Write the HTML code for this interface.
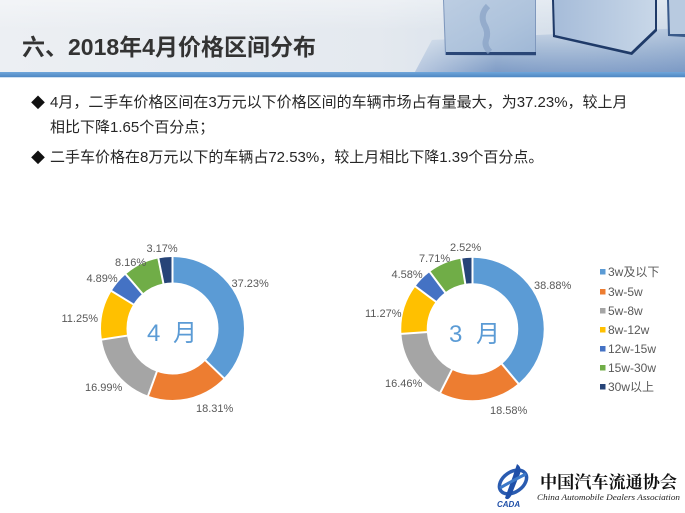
<!DOCTYPE html>
<html><head><meta charset="utf-8">
<style>
html,body{margin:0;padding:0;background:#fff;}
body{width:685px;height:513px;overflow:hidden;position:relative;font-family:"Liberation Sans","Noto Sans CJK SC",sans-serif;}
.t{position:absolute;white-space:nowrap;}
</style></head><body>
<svg width="685" height="513" viewBox="0 0 685 513" style="position:absolute;left:0;top:0">
<defs>
<linearGradient id="hbg" x1="0" y1="0" x2="1" y2="0">
<stop offset="0" stop-color="#eceff3"/>
<stop offset="0.55" stop-color="#e4e9ef"/>
<stop offset="0.7" stop-color="#dbe3ec"/>
<stop offset="1" stop-color="#cfdbe8"/>
</linearGradient>
<linearGradient id="hbg2" x1="0" y1="0" x2="0" y2="1">
<stop offset="0" stop-color="#ffffff" stop-opacity="0.35"/>
<stop offset="1" stop-color="#ffffff" stop-opacity="0"/>
</linearGradient>
<linearGradient id="floor" x1="0" y1="0" x2="0" y2="1">
<stop offset="0" stop-color="#c9d6e6"/>
<stop offset="0.5" stop-color="#a3b9d5"/>
<stop offset="1" stop-color="#7f9cc6"/>
</linearGradient>
<linearGradient id="floorh" x1="0" y1="0" x2="1" y2="0">
<stop offset="0" stop-color="#ffffff" stop-opacity="0.45"/>
<stop offset="0.3" stop-color="#ffffff" stop-opacity="0"/>
<stop offset="1" stop-color="#6f90c0" stop-opacity="0.2"/>
</linearGradient>
<linearGradient id="cube" x1="0" y1="0" x2="1" y2="1">
<stop offset="0" stop-color="#bccde2"/>
<stop offset="0.6" stop-color="#aec3dc"/>
<stop offset="1" stop-color="#a0b8d6"/>
</linearGradient>
<linearGradient id="cube2" x1="0" y1="0" x2="1" y2="0">
<stop offset="0" stop-color="#a6bcd9"/>
<stop offset="1" stop-color="#c8d7e8"/>
</linearGradient>
<linearGradient id="bar" x1="0" y1="0" x2="0" y2="1">
<stop offset="0" stop-color="#6fa6da"/>
<stop offset="1" stop-color="#4f88c4"/>
</linearGradient>
</defs>
<!-- header -->
<rect x="0" y="0" width="685" height="72" fill="url(#hbg)"/>
<rect x="0" y="0" width="685" height="30" fill="url(#hbg2)"/>
<polygon points="415,72 432,40 685,28 685,72" fill="url(#floor)"/>
<polygon points="415,72 432,40 685,28 685,72" fill="url(#floorh)"/>
<!-- cube 1 -->
<polygon points="443,0 536,0 536,56 445,55" fill="#7f98bd"/>
<polygon points="444,0 535,0 535,52 446,52" fill="url(#cube)"/>
<rect x="446" y="52" width="90" height="3" fill="#2a4676"/>
<path d="M488,6 q-8,8 -4,18 q5,8 2,16 q-2,6 4,12" stroke="#88a1c4" stroke-width="6" fill="none" opacity="0.7"/>
<!-- cube 2 -->
<polygon points="552,0 657,0 657,31 632,55 553,37" fill="#1f3a68"/>
<polygon points="554,0 655,0 655,29 631,52 555,35" fill="url(#cube2)"/>
<!-- cube 3 -->
<polygon points="667,0 685,0 685,37 668,36" fill="#3a5a8a"/>
<polygon points="669,0 685,0 685,34 670,34" fill="#b8cae0"/>
<!-- bar -->
<rect x="0" y="72" width="685" height="5" fill="url(#bar)"/>
<rect x="0" y="77" width="685" height="1" fill="#cfe0f1"/>

<!-- donut 1 -->
<g transform="rotate(-90 172.5 328.5)" fill="none" stroke-width="25.5">
<circle cx="172.5" cy="328.5" r="58.75" pathLength="100" stroke="#5b9bd5" stroke-dasharray="37.23 200" stroke-dashoffset="0"/>
<circle cx="172.5" cy="328.5" r="58.75" pathLength="100" stroke="#ed7d31" stroke-dasharray="18.31 200" stroke-dashoffset="-37.23"/>
<circle cx="172.5" cy="328.5" r="58.75" pathLength="100" stroke="#a5a5a5" stroke-dasharray="16.99 200" stroke-dashoffset="-55.54"/>
<circle cx="172.5" cy="328.5" r="58.75" pathLength="100" stroke="#ffc000" stroke-dasharray="11.25 200" stroke-dashoffset="-72.53"/>
<circle cx="172.5" cy="328.5" r="58.75" pathLength="100" stroke="#4472c4" stroke-dasharray="4.89 200" stroke-dashoffset="-83.78"/>
<circle cx="172.5" cy="328.5" r="58.75" pathLength="100" stroke="#70ad47" stroke-dasharray="8.16 200" stroke-dashoffset="-88.67"/>
<circle cx="172.5" cy="328.5" r="58.75" pathLength="100" stroke="#264478" stroke-dasharray="3.17 200" stroke-dashoffset="-96.83"/>
</g>
<g stroke="#fff" stroke-width="2">
<line x1="172.5" y1="284" x2="172.5" y2="255" transform="rotate(0 172.5 328.5)"/>
<line x1="172.5" y1="284" x2="172.5" y2="255" transform="rotate(134.03 172.5 328.5)"/>
<line x1="172.5" y1="284" x2="172.5" y2="255" transform="rotate(199.94 172.5 328.5)"/>
<line x1="172.5" y1="284" x2="172.5" y2="255" transform="rotate(261.11 172.5 328.5)"/>
<line x1="172.5" y1="284" x2="172.5" y2="255" transform="rotate(301.61 172.5 328.5)"/>
<line x1="172.5" y1="284" x2="172.5" y2="255" transform="rotate(319.21 172.5 328.5)"/>
<line x1="172.5" y1="284" x2="172.5" y2="255" transform="rotate(348.59 172.5 328.5)"/>
</g>

<!-- donut 2 -->
<g transform="rotate(-90 472.5 329)" fill="none" stroke-width="25.5">
<circle cx="472.5" cy="329" r="58.5" pathLength="100" stroke="#5b9bd5" stroke-dasharray="38.88 200" stroke-dashoffset="0"/>
<circle cx="472.5" cy="329" r="58.5" pathLength="100" stroke="#ed7d31" stroke-dasharray="18.58 200" stroke-dashoffset="-38.88"/>
<circle cx="472.5" cy="329" r="58.5" pathLength="100" stroke="#a5a5a5" stroke-dasharray="16.46 200" stroke-dashoffset="-57.46"/>
<circle cx="472.5" cy="329" r="58.5" pathLength="100" stroke="#ffc000" stroke-dasharray="11.27 200" stroke-dashoffset="-73.92"/>
<circle cx="472.5" cy="329" r="58.5" pathLength="100" stroke="#4472c4" stroke-dasharray="4.58 200" stroke-dashoffset="-85.19"/>
<circle cx="472.5" cy="329" r="58.5" pathLength="100" stroke="#70ad47" stroke-dasharray="7.71 200" stroke-dashoffset="-89.77"/>
<circle cx="472.5" cy="329" r="58.5" pathLength="100" stroke="#264478" stroke-dasharray="2.52 200" stroke-dashoffset="-97.48"/>
</g>
<g stroke="#fff" stroke-width="2">
<line x1="472.5" y1="284.5" x2="472.5" y2="255.5" transform="rotate(0 472.5 329)"/>
<line x1="472.5" y1="284.5" x2="472.5" y2="255.5" transform="rotate(139.97 472.5 329)"/>
<line x1="472.5" y1="284.5" x2="472.5" y2="255.5" transform="rotate(206.86 472.5 329)"/>
<line x1="472.5" y1="284.5" x2="472.5" y2="255.5" transform="rotate(266.11 472.5 329)"/>
<line x1="472.5" y1="284.5" x2="472.5" y2="255.5" transform="rotate(306.68 472.5 329)"/>
<line x1="472.5" y1="284.5" x2="472.5" y2="255.5" transform="rotate(323.17 472.5 329)"/>
<line x1="472.5" y1="284.5" x2="472.5" y2="255.5" transform="rotate(350.93 472.5 329)"/>
</g>

<!-- data labels -->
<g font-family="Liberation Sans, sans-serif" font-size="11" fill="#595959">
<text x="231.5" y="287">37.23%</text>
<text x="196" y="412">18.31%</text>
<text x="85" y="391">16.99%</text>
<text x="61.5" y="322">11.25%</text>
<text x="86.5" y="282">4.89%</text>
<text x="115" y="266">8.16%</text>
<text x="146.5" y="252">3.17%</text>

<text x="534" y="289">38.88%</text>
<text x="490" y="414">18.58%</text>
<text x="385" y="387">16.46%</text>
<text x="365" y="317">11.27%</text>
<text x="391.5" y="278">4.58%</text>
<text x="419" y="262">7.71%</text>
<text x="450" y="251">2.52%</text>
</g>

<!-- center labels -->
<g font-family="Liberation Sans, Noto Sans CJK SC, sans-serif" font-size="24" fill="#5b9bd5">
<text x="147" y="341">4</text>
<text x="173" y="341">月</text>
<text x="449" y="342">3</text>
<text x="476" y="342">月</text>
</g>

<!-- legend -->
<g font-family="Liberation Sans, Noto Sans CJK SC, sans-serif" font-size="12" fill="#595959">
<rect x="600" y="269" width="5.5" height="5.5" fill="#5b9bd5"/><text x="608" y="276">3w及以下</text>
<rect x="600" y="289" width="5.5" height="5.5" fill="#ed7d31"/><text x="608" y="296">3w-5w</text>
<rect x="600" y="308" width="5.5" height="5.5" fill="#a5a5a5"/><text x="608" y="315">5w-8w</text>
<rect x="600" y="327" width="5.5" height="5.5" fill="#ffc000"/><text x="608" y="334">8w-12w</text>
<rect x="600" y="346" width="5.5" height="5.5" fill="#4472c4"/><text x="608" y="353">12w-15w</text>
<rect x="600" y="365" width="5.5" height="5.5" fill="#70ad47"/><text x="608" y="372">15w-30w</text>
<rect x="600" y="384" width="5.5" height="5.5" fill="#264478"/><text x="608" y="391">30w以上</text>
</g>

<!-- logo -->
<g>
<ellipse cx="513" cy="482" rx="15" ry="10" fill="none" stroke="#2a5bb0" stroke-width="3.5" transform="rotate(-35 513 482)"/>
<path d="M517,464 q6,4 2,12 l-8,20 q-3,5 -6,2 l8,-22 q2,-6 4,-12z" fill="#1f4fa8"/>
<path d="M500,488 q10,-6 26,-14" stroke="#3b78c8" stroke-width="3" fill="none"/>
<text x="497" y="507" font-family="Liberation Sans, sans-serif" font-size="8" font-weight="bold" font-style="italic" fill="#1f4fa8">CADA</text>
<text x="540" y="488" font-family="Noto Serif CJK SC, serif" font-size="17" font-weight="bold" fill="#111" textLength="137" lengthAdjust="spacingAndGlyphs">中国汽车流通协会</text>
<text x="537" y="500" font-family="Liberation Serif, serif" font-size="8.5" font-style="italic" fill="#222" textLength="143" lengthAdjust="spacingAndGlyphs">China Automobile Dealers Association</text>
</g>
</svg>

<div class="t" style="left:22px;top:33px;font-size:23px;font-weight:bold;color:#333;font-family:'Liberation Sans','Noto Sans CJK SC',sans-serif;line-height:28px;">六、2018年4月价格区间分布</div>

<div class="t" style="left:31px;top:93px;font-size:14px;color:#111;line-height:20px;">◆</div>
<div class="t" style="left:50px;top:93px;font-size:15px;color:#262626;line-height:20px;">4月，二手车价格区间在3万元以下价格区间的车辆市场占有量最大，为37.23%，较上月</div>
<div class="t" style="left:50px;top:118px;font-size:15px;color:#262626;line-height:20px;">相比下降1.65个百分点；</div>
<div class="t" style="left:31px;top:148px;font-size:14px;color:#111;line-height:20px;">◆</div>
<div class="t" style="left:50px;top:148px;font-size:15px;color:#262626;line-height:20px;">二手车价格在8万元以下的车辆占72.53%，较上月相比下降1.39个百分点。</div>
</body></html>
